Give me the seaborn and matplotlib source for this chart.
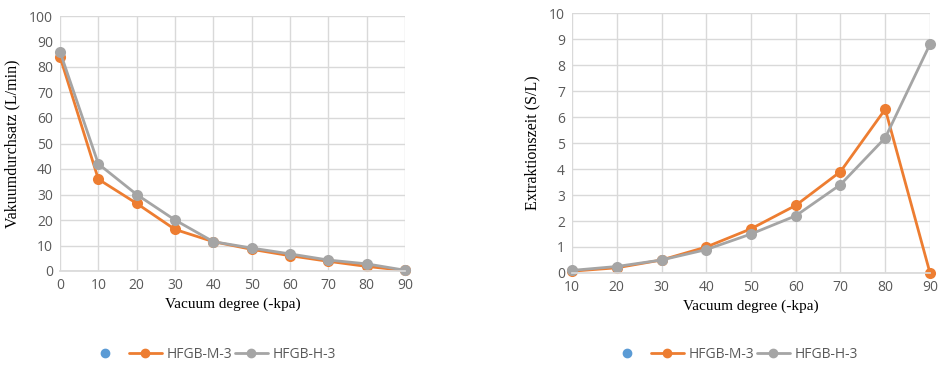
"""
Vacuum degree vs. throughput / extraction time, two HFGB variants.
"""

import matplotlib
matplotlib.use("Agg")
import matplotlib.pyplot as plt
from matplotlib.lines import Line2D
import pandas as pd
import seaborn as sns

# Left panel: Vakuumdurchsatz (L/min)
vacuum_left = [0, 10, 20, 30, 40, 50, 60, 70, 80, 90]
flow_m3 = [84, 36, 26.5, 16.3, 11.5, 8.5, 6.0, 3.8, 1.8, 0.2]
flow_h3 = [86, 42, 30, 20, 11.5, 9.0, 6.7, 4.3, 2.8, 0.3]

# Right panel: Extraktionszeit (S/L)
vacuum_right = [10, 20, 30, 40, 50, 60, 70, 80, 90]
time_m3 = [0.07, 0.2, 0.5, 1.0, 1.7, 2.6, 3.9, 6.3, 0.0]
time_h3 = [0.1, 0.25, 0.5, 0.9, 1.5, 2.2, 3.4, 5.2, 8.8]

series_names = ["HFGB-M-3", "HFGB-H-3"]
palette = {"HFGB-M-3": "#ED7D31", "HFGB-H-3": "#A5A5A5"}

TICK_COLOR = "#595959"
GRID_COLOR = "#D9D9D9"


def long_frame(x, m3, h3):
    return pd.DataFrame({
        "x": list(x) * 2,
        "y": list(m3) + list(h3),
        "series": [series_names[0]] * len(m3) + [series_names[1]] * len(h3),
    })


def style_axis(ax, xticks, ymax, ystep, ylabel):
    ax.set_xlim(xticks[0], xticks[-1])
    ax.set_ylim(0, ymax)
    ax.set_xticks(xticks)
    ax.set_yticks(range(0, ymax + 1, ystep))
    ax.grid(True, color=GRID_COLOR, lw=1)
    ax.set_axisbelow(True)
    for side in ["top", "right", "left"]:
        ax.spines[side].set_visible(False)
    ax.spines["bottom"].set_color(GRID_COLOR)
    ax.tick_params(length=0, colors=TICK_COLOR, labelsize=10, pad=5)
    for lab in ax.get_xticklabels() + ax.get_yticklabels():
        lab.set_fontfamily("Open Sans")
    ax.set_xlabel("Vacuum degree (-kpa)", fontfamily="Liberation Serif",
                  fontsize=11, color="black", labelpad=3)
    ax.set_ylabel(ylabel, fontfamily="Liberation Serif", fontsize=11.5,
                  color="black", labelpad=6)
    if ax.get_legend() is not None:
        ax.get_legend().remove()


sns.set_theme(style="white")
fig = plt.figure(figsize=(9.45, 3.69), dpi=100)

ax1 = fig.add_axes([60 / 945, 1 - 271 / 369, 345 / 945, 255 / 369])
ax2 = fig.add_axes([572 / 945, 1 - 273 / 369, 358 / 945, 260 / 369])

for ax, x, m3, h3 in [(ax1, vacuum_left, flow_m3, flow_h3),
                      (ax2, vacuum_right, time_m3, time_h3)]:
    sns.lineplot(data=long_frame(x, m3, h3), x="x", y="y", hue="series",
                 hue_order=series_names, palette=palette, marker="o",
                 markersize=8, markeredgewidth=0, lw=2, ax=ax, clip_on=False)

style_axis(ax1, vacuum_left, 100, 10, "Vakuumdurchsatz (L/min)")
style_axis(ax2, vacuum_right, 10, 1, "Extraktionszeit (S/L)")

# Legends: an empty blue series plus the two lines
for x0 in [76 / 945, 598 / 945]:
    handles = [Line2D([], [], color="#5B9BD5", marker="o", lw=0, markersize=6)]
    handles += [Line2D([], [], color=palette[n], marker="o", lw=2, markersize=6)
                for n in series_names]
    leg = fig.legend(handles, [""] + series_names, loc="center left",
                     bbox_to_anchor=(x0, 1 - 354 / 369), ncol=3, frameon=False,
                     handlelength=2.4, handletextpad=0.3, columnspacing=0.2,
                     prop={"family": "Open Sans", "size": 10})
    for t in leg.get_texts():
        t.set_color(TICK_COLOR)

plt.savefig("out.png", dpi=100)
plt.close()
